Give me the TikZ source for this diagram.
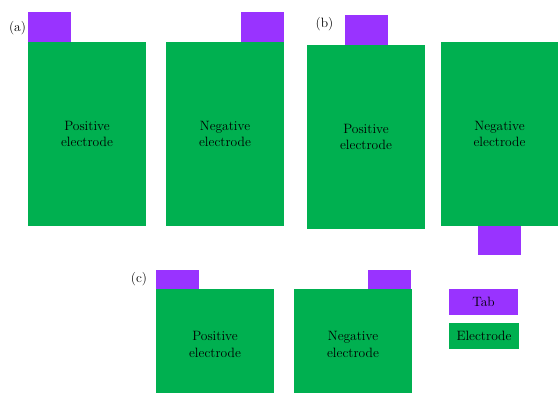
\documentclass[tikz,border=0pt]{standalone}
\definecolor{tabpurple}{HTML}{9933FF}
\definecolor{elecgreen}{HTML}{00B050}
\tikzset{
  electrode/.style={rectangle, fill=elecgreen, inner sep=0pt, align=center,
    minimum width=118pt, minimum height=184pt},
  tabbox/.style={rectangle, fill=tabpurple, inner sep=0pt,
    minimum width=43pt, minimum height=30pt},
  panel/.style={inner sep=0pt}
}
\begin{document}
\begin{tikzpicture}[x=1pt, y=-1pt, font=\fontsize{13.5}{16.5}\selectfont]
    \useasboundingbox (0,0) rectangle (558,392);
    % (a)
    \node[electrode] (posA) at (87,134) {Positive\\electrode};
    \node[electrode] (negA) at ([shift={(138,0)}] posA) {Negative\\electrode};
    \node[tabbox, anchor=south west] (tabposA) at (posA.north west) {};
    \node[tabbox, anchor=south east] (tabnegA) at (negA.north east) {};
    \node[panel] (labA) at (17.5,28) {(a)};
    % (b)
    \node[electrode] (posB) at (366,137) {Positive\\electrode};
    \node[electrode, minimum width=117pt] (negB) at ([shift={(133.5,-3)}] posB) {Negative\\electrode};
    \node[tabbox, anchor=south] (tabposB) at (posB.north) {};
    \node[tabbox, anchor=north, minimum height=29pt] (tabnegB) at (negB.south) {};
    \node[panel] (labB) at (324.5,24) {(b)};
    % (c) - boxes run past the lower edge
    \node[electrode, minimum height=111pt] (posC) at (215,344.5) {Positive\\electrode};
    \node[electrode, minimum height=111pt] (negC) at ([shift={(138,0)}] posC) {Negative\\electrode};
    \node[tabbox, anchor=south west, minimum height=19pt] (tabposC) at (posC.north west) {};
    \node[tabbox, anchor=south east, minimum height=19pt] (tabnegC) at ([shift={(-1,0)}] negC.north east) {};
    \node[panel] (labC) at (139,279) {(c)};
    % legend
    \node[tabbox, minimum width=69pt, minimum height=26pt] (legtab) at (483.5,302) {Tab};
    \node[electrode, minimum width=70pt, minimum height=26pt] (legelec) at ([shift={(0.5,34)}] legtab) {Electrode};
\end{tikzpicture}
\end{document}
